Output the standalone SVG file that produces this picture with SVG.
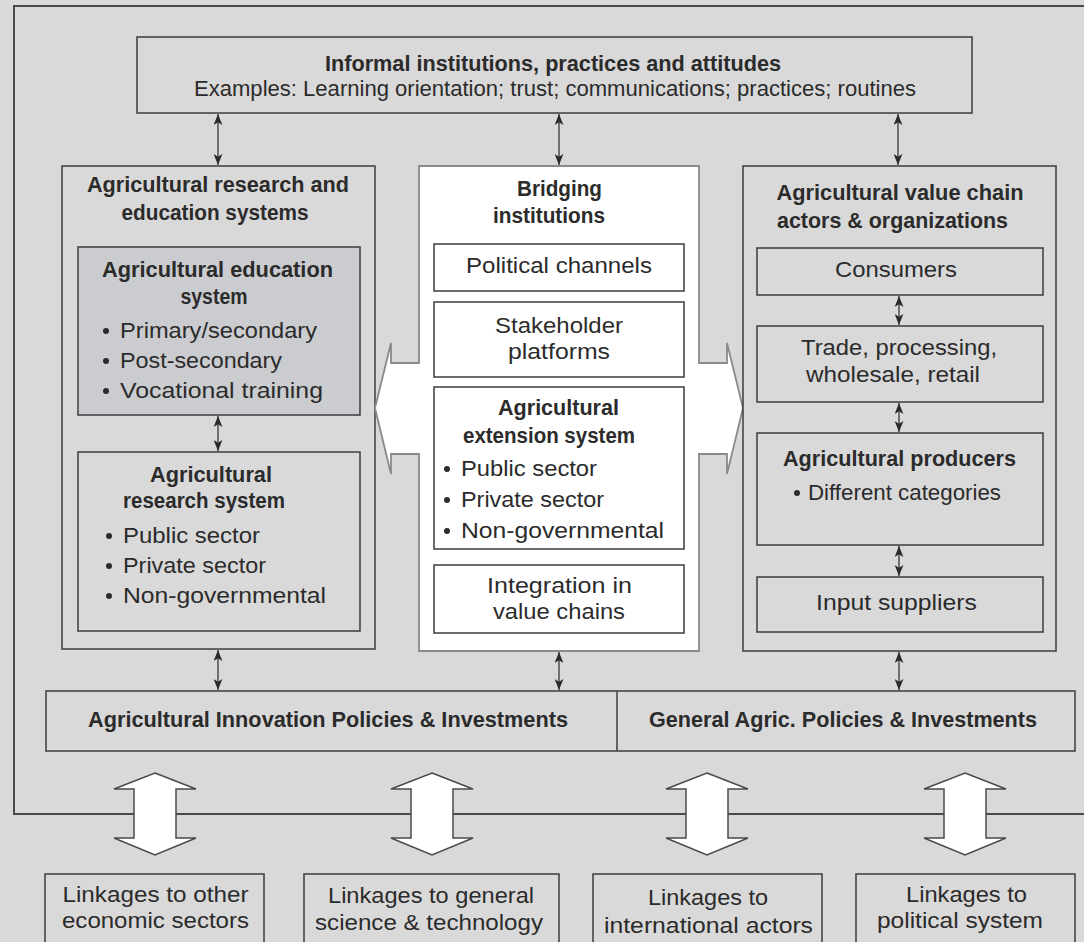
<svg xmlns="http://www.w3.org/2000/svg" width="1084" height="942" viewBox="0 0 1084 942">
<defs>
<style>
.bg{fill:#d9d9d9}
.box{fill:none;stroke:#3c3c3c;stroke-width:1.5}
.boxf{fill:#d9d9d9;stroke:#3c3c3c;stroke-width:1.5}
.wbox{fill:#ffffff;stroke:#3c3c3c;stroke-width:1.5}
.edu{fill:#cbcccf;stroke:#3c3c3c;stroke-width:1.5}
.t{font-family:"Liberation Sans",Arial,sans-serif;font-size:22px;fill:#2b2b2b}
.b{font-weight:700}
.c{text-anchor:middle}
.conn{stroke:#2b2b2b;stroke-width:1.2;fill:none}
.big{fill:#ffffff;stroke:#4a4a4a;stroke-width:1.5;stroke-linejoin:miter}
.dot{fill:#2b2b2b}
</style>
<marker id="ah" viewBox="0 0 10 8" refX="10" refY="4" markerWidth="11" markerHeight="9" markerUnits="userSpaceOnUse" orient="auto-start-reverse">
<path d="M0,0 L10,4 L0,8 L2.5,4 Z" fill="#2b2b2b"/>
</marker>
</defs>
<rect class="bg" x="0" y="0" width="1084" height="942"/>
<rect id="frame" x="14" y="6" width="1085" height="808" fill="none" stroke="#4a4a4a" stroke-width="2"/>

<g id="informal">
<rect class="boxf" x="137" y="37" width="835" height="76"/>
<text class="t b c" x="553" y="71" font-size="21" textLength="456" lengthAdjust="spacingAndGlyphs">Informal institutions, practices and attitudes</text>
<text class="t c" x="555" y="96" font-size="19.5" textLength="722" lengthAdjust="spacingAndGlyphs">Examples: Learning orientation; trust; communications; practices; routines</text>
</g>

<g id="research-education">
<rect class="boxf" x="62" y="166" width="313" height="483"/>
<text class="t b c" x="218" y="192" textLength="262" lengthAdjust="spacingAndGlyphs">Agricultural research and</text>
<text class="t b c" x="215" y="220" textLength="187" lengthAdjust="spacingAndGlyphs">education systems</text>
</g>
<g id="education-system">
<rect class="edu" x="78" y="247" width="282" height="168"/>
<text class="t b c" x="217.5" y="277" textLength="231" lengthAdjust="spacingAndGlyphs">Agricultural education</text>
<text class="t b c" x="214" y="304" textLength="67" lengthAdjust="spacingAndGlyphs">system</text>
<circle class="dot" cx="106" cy="331" r="3"/>
<text class="t" x="120" y="338" textLength="197" lengthAdjust="spacingAndGlyphs">Primary/secondary</text>
<circle class="dot" cx="106" cy="361" r="3"/>
<text class="t" x="120" y="368" textLength="162" lengthAdjust="spacingAndGlyphs">Post-secondary</text>
<circle class="dot" cx="106" cy="391" r="3"/>
<text class="t" x="120" y="398" textLength="203" lengthAdjust="spacingAndGlyphs">Vocational training</text>
</g>
<g id="research-system">
<rect class="box" x="78" y="452" width="282" height="179"/>
<text class="t b c" x="211" y="482" textLength="122" lengthAdjust="spacingAndGlyphs">Agricultural</text>
<text class="t b c" x="204" y="508" textLength="162" lengthAdjust="spacingAndGlyphs">research system</text>
<circle class="dot" cx="109" cy="536" r="3"/>
<text class="t" x="123" y="543" textLength="137" lengthAdjust="spacingAndGlyphs">Public sector</text>
<circle class="dot" cx="109" cy="566" r="3"/>
<text class="t" x="123" y="573" textLength="143" lengthAdjust="spacingAndGlyphs">Private sector</text>
<circle class="dot" cx="109" cy="596" r="3"/>
<text class="t" x="123" y="603" textLength="203" lengthAdjust="spacingAndGlyphs">Non-governmental</text>
</g>

<g id="bridging">
<path d="M419,166 H699 V363 H727 V343 L743,408 L727,474 V454 H699 V651 H419 V454 H391 V474 L375,408 L391,343 V363 H419 Z" fill="#ffffff" stroke="#8a8a8a" stroke-width="1.8"/>
<text class="t b c" x="559.5" y="196" textLength="85" lengthAdjust="spacingAndGlyphs">Bridging</text>
<text class="t b c" x="549" y="223" textLength="112" lengthAdjust="spacingAndGlyphs">institutions</text>
</g>
<g id="political-channels">
<rect class="wbox" x="434" y="244" width="250" height="47"/>
<text class="t c" x="559" y="273" textLength="186" lengthAdjust="spacingAndGlyphs">Political channels</text>
</g>
<g id="stakeholder">
<rect class="wbox" x="434" y="302" width="250" height="75"/>
<text class="t c" x="559" y="333" textLength="128" lengthAdjust="spacingAndGlyphs">Stakeholder</text>
<text class="t c" x="559" y="359" textLength="102" lengthAdjust="spacingAndGlyphs">platforms</text>
</g>
<g id="extension">
<rect class="wbox" x="434" y="387" width="250" height="162"/>
<text class="t b c" x="558.5" y="415" textLength="121" lengthAdjust="spacingAndGlyphs">Agricultural</text>
<text class="t b c" x="549" y="443" textLength="172" lengthAdjust="spacingAndGlyphs">extension system</text>
<circle class="dot" cx="447" cy="469" r="3"/>
<text class="t" x="461" y="476" textLength="136" lengthAdjust="spacingAndGlyphs">Public sector</text>
<circle class="dot" cx="447" cy="500" r="3"/>
<text class="t" x="461" y="507" textLength="143" lengthAdjust="spacingAndGlyphs">Private sector</text>
<circle class="dot" cx="447" cy="531" r="3"/>
<text class="t" x="461" y="538" textLength="203" lengthAdjust="spacingAndGlyphs">Non-governmental</text>
</g>
<g id="integration">
<rect class="wbox" x="434" y="565" width="250" height="68"/>
<text class="t c" x="559.5" y="593" textLength="145" lengthAdjust="spacingAndGlyphs">Integration in</text>
<text class="t c" x="559" y="619" textLength="132" lengthAdjust="spacingAndGlyphs">value chains</text>
</g>

<g id="value-chain">
<rect class="boxf" x="743" y="166" width="313" height="485"/>
<text class="t b c" x="900" y="200" textLength="247" lengthAdjust="spacingAndGlyphs">Agricultural value chain</text>
<text class="t b c" x="892.5" y="228" textLength="231" lengthAdjust="spacingAndGlyphs">actors &amp; organizations</text>
</g>
<g id="consumers">
<rect class="box" x="757" y="248" width="286" height="47"/>
<text class="t c" x="896" y="277" textLength="122" lengthAdjust="spacingAndGlyphs">Consumers</text>
</g>
<g id="trade">
<rect class="box" x="757" y="326" width="286" height="76"/>
<text class="t c" x="899" y="355" textLength="196" lengthAdjust="spacingAndGlyphs">Trade, processing,</text>
<text class="t c" x="893" y="382" textLength="174" lengthAdjust="spacingAndGlyphs">wholesale, retail</text>
</g>
<g id="producers">
<rect class="box" x="757" y="433" width="286" height="112"/>
<text class="t b c" x="899.5" y="466" textLength="233" lengthAdjust="spacingAndGlyphs">Agricultural producers</text>
<circle class="dot" cx="797" cy="493" r="3"/>
<text class="t" x="808" y="500" textLength="193" lengthAdjust="spacingAndGlyphs">Different categories</text>
</g>
<g id="input-suppliers">
<rect class="box" x="757" y="577" width="286" height="55"/>
<text class="t c" x="896.5" y="610" textLength="161" lengthAdjust="spacingAndGlyphs">Input suppliers</text>
</g>

<g id="policies">
<rect class="boxf" x="46" y="691" width="1029" height="60"/>
<line x1="617" y1="691" x2="617" y2="751" stroke="#3c3c3c" stroke-width="1.5"/>
<text class="t b c" x="328" y="727" textLength="480" lengthAdjust="spacingAndGlyphs">Agricultural Innovation Policies &amp; Investments</text>
<text class="t b c" x="843" y="727" textLength="388" lengthAdjust="spacingAndGlyphs">General Agric. Policies &amp; Investments</text>
</g>

<g id="link-economic">
<rect class="boxf" x="45" y="874" width="219" height="90"/>
<text class="t c" x="155.5" y="902" textLength="186" lengthAdjust="spacingAndGlyphs">Linkages to other</text>
<text class="t c" x="155.5" y="928" textLength="187" lengthAdjust="spacingAndGlyphs">economic sectors</text>
</g>
<g id="link-science">
<rect class="boxf" x="304" y="874" width="255" height="90"/>
<text class="t c" x="431" y="903" textLength="206" lengthAdjust="spacingAndGlyphs">Linkages to general</text>
<text class="t c" x="429" y="930" textLength="228" lengthAdjust="spacingAndGlyphs">science &amp; technology</text>
</g>
<g id="link-international">
<rect class="boxf" x="593" y="874" width="229" height="90"/>
<text class="t c" x="708" y="905" textLength="120" lengthAdjust="spacingAndGlyphs">Linkages to</text>
<text class="t c" x="708.5" y="933" textLength="209" lengthAdjust="spacingAndGlyphs">international actors</text>
</g>
<g id="link-political">
<rect class="boxf" x="856" y="874" width="219" height="90"/>
<text class="t c" x="966.5" y="902" textLength="121" lengthAdjust="spacingAndGlyphs">Linkages to</text>
<text class="t c" x="960" y="928" textLength="166" lengthAdjust="spacingAndGlyphs">political system</text>
</g>

<g id="connectors">
<line class="conn" x1="218" y1="114" x2="218" y2="165" marker-start="url(#ah)" marker-end="url(#ah)"/>
<line class="conn" x1="559" y1="114" x2="559" y2="165" marker-start="url(#ah)" marker-end="url(#ah)"/>
<line class="conn" x1="898" y1="114" x2="898" y2="165" marker-start="url(#ah)" marker-end="url(#ah)"/>
<line class="conn" x1="218" y1="416" x2="218" y2="451" marker-start="url(#ah)" marker-end="url(#ah)"/>
<line class="conn" x1="899" y1="296" x2="899" y2="325" marker-start="url(#ah)" marker-end="url(#ah)"/>
<line class="conn" x1="899" y1="403" x2="899" y2="432" marker-start="url(#ah)" marker-end="url(#ah)"/>
<line class="conn" x1="899" y1="546" x2="899" y2="576" marker-start="url(#ah)" marker-end="url(#ah)"/>
<line class="conn" x1="218" y1="650" x2="218" y2="690" marker-start="url(#ah)" marker-end="url(#ah)"/>
<line class="conn" x1="559" y1="652" x2="559" y2="690" marker-start="url(#ah)" marker-end="url(#ah)"/>
<line class="conn" x1="899" y1="652" x2="899" y2="690" marker-start="url(#ah)" marker-end="url(#ah)"/>
<path class="big" d="M155,773 L196,789 H176 V838 H196 L155,855 L114,838 H134 V789 H114 Z"/>
<path class="big" d="M432,773 L473,789 H453 V838 H473 L432,855 L391,838 H411 V789 H391 Z"/>
<path class="big" d="M707,773 L748,789 H728 V838 H748 L707,855 L666,838 H686 V789 H666 Z"/>
<path class="big" d="M965,773 L1006,789 H986 V838 H1006 L965,855 L924,838 H944 V789 H924 Z"/>
</g>
</svg>
